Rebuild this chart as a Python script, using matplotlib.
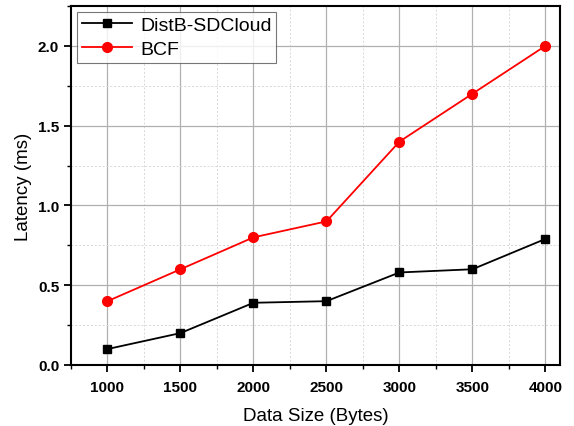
import matplotlib
matplotlib.use('Agg')
import matplotlib.pyplot as plt
from matplotlib.ticker import MultipleLocator

plt.rcParams['font.family'] = ['Liberation Sans', 'DejaVu Sans']

data_size = [1000, 1500, 2000, 2500, 3000, 3500, 4000]
distb_sdcloud = [0.10, 0.20, 0.39, 0.40, 0.58, 0.60, 0.79]
bcf = [0.40, 0.60, 0.80, 0.90, 1.40, 1.70, 2.00]

fig = plt.figure(figsize=(5.74, 4.27), dpi=100)
ax = fig.add_axes([71 / 574, 1 - 366 / 427, (560 - 71) / 574, (366 - 7) / 427])

ax.plot(data_size, distb_sdcloud, color='black', marker='s', markersize=6,
        linewidth=1.3, label='DistB-SDCloud')
ax.plot(data_size, bcf, color='red', marker='o', markersize=7,
        linewidth=1.3, label='BCF')

ax.set_xlim(750, 4100)
ax.set_ylim(0, 2.25)
ax.xaxis.set_major_locator(MultipleLocator(500))
ax.xaxis.set_minor_locator(MultipleLocator(250))
ax.yaxis.set_major_locator(MultipleLocator(0.5))
ax.yaxis.set_minor_locator(MultipleLocator(0.25))

ax.grid(which='major', color='#b0b0b0', linewidth=0.9, linestyle='-')
ax.grid(which='minor', color='#d8d8d8', linewidth=0.7, linestyle=(0, (2, 2)))
ax.set_axisbelow(True)

for s in ax.spines.values():
    s.set_linewidth(1.5)
ax.tick_params(which='major', direction='out', length=5, width=1.3,
               labelsize=11)
ax.tick_params(axis='x', which='major', pad=6)
ax.tick_params(which='minor', direction='out', length=3, width=1.0)
for lbl in ax.get_xticklabels() + ax.get_yticklabels():
    lbl.set_fontweight('bold')
ax.xaxis.set_major_formatter(plt.FuncFormatter(lambda v, p: f'{int(v)}'))
ax.yaxis.set_major_formatter(plt.FuncFormatter(lambda v, p: f'{v:.1f}'))

ax.set_xlabel('Data Size (Bytes)', fontsize=13.5, labelpad=9)
ax.set_ylabel('Latency (ms)', fontsize=13.5, labelpad=4)

leg = ax.legend(loc='upper left', fontsize=14, frameon=True, fancybox=False,
                edgecolor='#555555', borderaxespad=0.3, handlelength=2.6,
                borderpad=0.25, labelspacing=0.3, handletextpad=0.4)
leg.get_frame().set_linewidth(0.8)

fig.savefig('out.png', dpi=100)
